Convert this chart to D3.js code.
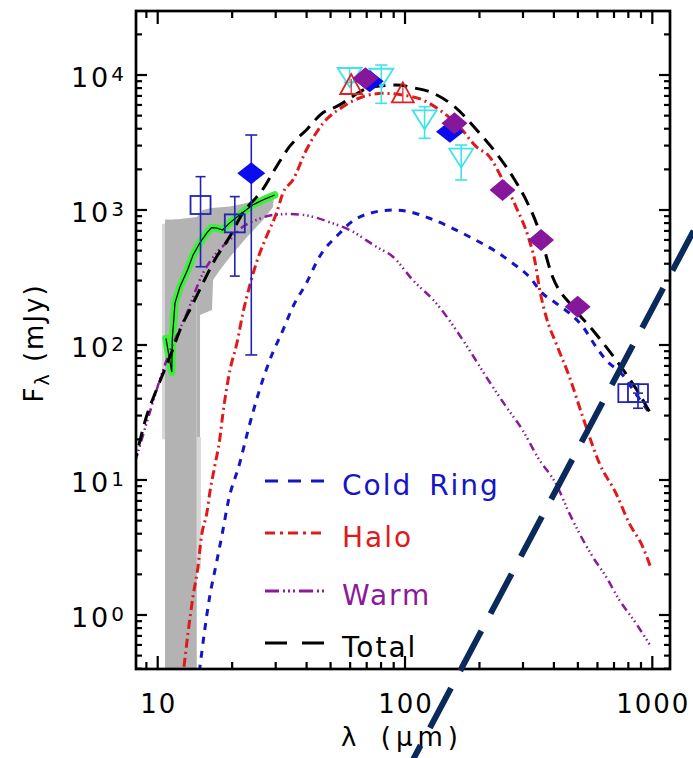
<!DOCTYPE html>
<html>
<head>
<meta charset="utf-8">
<script src="https://cdn.jsdelivr.net/npm/d3@7"></script>
<style>
  html, body { margin: 0; padding: 0; background: #fff; }
  svg { display: block; }
  text { font-family: "DejaVu Sans", sans-serif; fill: #000; }
</style>
</head>
<body>
<svg id="chart" width="693" height="758"></svg>
<script>
// ---------------- data ----------------
// axes
const xDomain = [8.17, 1179];      // wavelength, micron
const yDomain = [0.398, 29800];    // flux density, mJy
const xTickLabels = [10, 100, 1000];
const yTickExponents = [0, 1, 2, 3, 4];

// spectrum uncertainty: short-wavelength strip (wavelength range, flux range)
const stripWave = [10.7, 14.38];
const stripFlux = [0.3, 850];
// spectrum uncertainty: long-wavelength envelope
const bandUpperWave = [10.7, 11.4, 14.4, 15.2, 16.5, 19.6, 22.9, 26.6, 29.5];
const bandUpperFlux = [801, 843, 888, 1000, 1035, 1060, 1127, 1228, 1292];
const bandLowerWave = [10.7, 14.38, 14.38, 14.83, 14.83, 16.58, 16.74, 17.86, 19.6, 22.97, 26.66, 29.26, 29.5];
const bandLowerFlux = [300, 300, 20.8, 20.8, 167, 182, 303, 359, 449, 631, 843, 1052, 1250];
// faint outer error ticks along the envelope edges
const edgeLeftWave = [10.4, 10.7];
const edgeLeftFlux = [20, 790];
const edgeRightWave = [14.38, 14.95];
const edgeRightFlux = [2.2, 20.8];

// spectrum itself
const specWave = [10.8, 11.4, 11.45, 11.6, 11.75, 12.3, 13.2, 13.9, 14.8, 15.8, 16.5, 17.3, 18.3, 19.5, 21.4, 24.2, 26.6, 29.7];
const specFlux = [112, 63, 110, 150, 205, 270, 360, 465, 570, 676, 740, 736, 711, 800, 918, 1090, 1186, 1292];

// model components
const coldWave = [14.5, 14.78, 15.49, 16.23, 17.27, 18.36, 19.23, 21.45, 23.2, 25.8, 28.4, 32.1, 35.2, 39.9, 45.1, 54.4, 59.7, 71.9, 89.3, 104, 125.6, 151, 182, 233.7, 272.6, 318, 360, 408, 462, 523, 592, 650, 759, 846, 988];
const coldFlux = [0.3, 0.398, 0.774, 1.37, 2.42, 4.27, 6.76, 13.3, 23.4, 46.4, 77.4, 129, 192, 287, 451, 672, 796, 945, 1000, 971, 869, 752, 634, 491, 403, 320, 241, 204, 172, 137, 97, 77.4, 60, 45.1, 30.3];

const haloWave = [12.5, 12.74, 13.26, 13.89, 14.55, 15.02, 15.8, 16.3, 17.0, 17.8, 18.36, 18.95, 19.6, 20.9, 22.1, 23.5, 25.05, 27.5, 30.2, 32.1, 35.2, 39.9, 46.6, 56.1, 67.5, 81.3, 98, 118, 137.9, 166, 194, 219.5, 248.5, 281, 318, 335, 350, 372, 408, 462, 523, 611, 713, 807, 914, 988];
const haloFlux = [0.3, 0.398, 0.736, 1.37, 2.28, 3.80, 5.7, 8.4, 12.6, 19.8, 31.3, 46.4, 65.3, 103, 172, 271, 405, 634, 945, 1337, 1668, 2783, 4385, 5826, 6906, 7316, 7109, 6531, 5508, 4142, 2944, 2484, 1668, 1057, 600, 420, 260, 162, 103, 58.2, 29.4, 13.3, 7.97, 4.77, 3.21, 2.22];

const warmWave = [8.0, 9.57, 10.19, 11.18, 13.0, 15.24, 17.27, 19.54, 22.1, 25.05, 29.2, 34.1, 41.1, 51.1, 59.7, 76.5, 89.3, 107.5, 133.7, 161, 182, 212.9, 256.5, 299, 345, 410, 462, 507, 574, 650, 736, 859, 988];
const warmFlux = [12.5, 38, 55, 88.7, 165, 340, 480, 600, 752, 843, 918, 934, 903, 796, 711, 535, 451, 303, 204, 129, 91.8, 58.2, 34.9, 23.4, 14.6, 9.2, 5.66, 4.03, 2.70, 1.92, 1.29, 0.867, 0.582];

const totalWave = [8.0, 9.0, 9.88, 11.36, 12.47, 13.68, 15.24, 17.0, 19.6, 22.0, 26.5, 30.2, 34.1, 39.9, 46.4, 52.7, 74.1, 92.1, 111, 125.6, 158.5, 200, 233.7, 272.6, 308.8, 344, 395, 476, 574, 713, 900, 991];
const totalFlux = [12.5, 29.4, 46.4, 87.3, 137, 192, 288, 426, 640, 940, 1406, 2094, 2944, 3917, 5236, 5826, 8185, 8433, 7966, 7520, 5826, 3715, 2642, 1766, 1185, 752, 320, 192, 129, 77.4, 41.4, 30.3];

// photometry
const sqWave = [14.9, 20.5, 800, 875];
const sqFlux = [1089, 796, 44, 44];
const sqErrLow = [380, 324, 44, 34];
const sqErrHigh = [1766, 1257, 44, 44];

const blueDiaWave = [23.9, 72, 152];
const blueDiaFlux = [1872, 9000, 3802];
const blueDiaErrLow = [84.4, 9000, 3802];
const blueDiaErrHigh = [3594, 9000, 3802];

const purpleDiaWave = [69.2, 158.5, 248, 355, 499];
const purpleDiaFlux = [9453, 4385, 1406, 600, 192];

const redTriWave = [60.6, 98];
const redTriFlux = [8433, 7316];

const cyanTriWave = [59.7, 80.2, 120, 168.7];
const cyanTriFlux = [9830, 9710, 4775, 2484];
const cyanErrLow = [8800, 6170, 3397, 1668];
const cyanErrHigh = [11300, 11860, 5826, 3030];

// overlaid guide stroke, given in (wavelength, flux) at its two ends
const guideWave = [100, 1878];
const guideFlux = [0.0655, 1640];

// legend
const legendNames = ["Cold Ring", "Halo", "Warm", "Total"];

// ---------------- drawing ----------------
const svg = d3.select("#chart");
const x = d3.scaleLog().domain(xDomain).range([136, 670]);
const y = d3.scaleLog().domain(yDomain).range([669, 11]);
const [x0, x1] = x.range();
const [y0, y1] = [y.range()[1], y.range()[0]];

const zip = (a, b) => a.map((v, i) => [v, b[i]]);

svg.append("clipPath").attr("id", "plotClip")
  .append("rect").attr("x", x0).attr("y", y0).attr("width", x1 - x0).attr("height", y1 - y0);

const plot = svg.append("g").attr("clip-path", "url(#plotClip)");
const lineGen = d3.line().x(d => x(d[0])).y(d => y(d[1]));

// box spanning a wavelength range and a flux range
function box(g, w, f, color) {
  g.append("rect")
    .attr("x", x(w[0])).attr("width", x(w[1]) - x(w[0]))
    .attr("y", y(f[1])).attr("height", y(f[0]) - y(f[1]))
    .attr("fill", color);
}

// faint edge error ticks
box(plot, edgeLeftWave, edgeLeftFlux, "#d8d8d8");
box(plot, edgeRightWave, edgeRightFlux, "#d8d8d8");

// shaded uncertainty of the spectrum
box(plot, stripWave, stripFlux, "#b3b3b3");
const bandPts = zip(bandUpperWave, bandUpperFlux).concat(zip(bandLowerWave, bandLowerFlux).reverse());
plot.append("path")
  .attr("d", lineGen(bandPts) + "Z")
  .attr("fill", "#b3b3b3").attr("stroke", "none");

// spectrum
const specPts = zip(specWave, specFlux);
plot.append("path").attr("d", lineGen(specPts))
  .attr("fill", "none").attr("stroke", "#3ef03e").attr("stroke-width", 7.5)
  .attr("stroke-linejoin", "round").attr("stroke-linecap", "round");
plot.append("path").attr("d", lineGen(specPts))
  .attr("fill", "none").attr("stroke", "#000").attr("stroke-width", 1.2);

// error bars helper
function errBars(g, wave, low, high, color, cap) {
  wave.forEach((w, i) => {
    if (low[i] === high[i]) return;
    const cx = x(w);
    g.append("line").attr("x1", cx).attr("x2", cx).attr("y1", y(low[i])).attr("y2", y(high[i]))
      .attr("stroke", color).attr("stroke-width", 1.6);
    [low[i], high[i]].forEach(v => {
      g.append("line").attr("x1", cx - cap).attr("x2", cx + cap).attr("y1", y(v)).attr("y2", y(v))
        .attr("stroke", color).attr("stroke-width", 1.6);
    });
  });
}

const pts = svg.append("g");

// cyan downward triangles (open)
errBars(pts, cyanTriWave, cyanErrLow, cyanErrHigh, "#3fe3ea", 6);
cyanTriWave.forEach((w, i) => {
  const cx = x(w), cy = y(cyanTriFlux[i]);
  pts.append("path").attr("d", `M${cx - 12},${cy - 8}L${cx + 12},${cy - 8}L${cx},${cy + 11}Z`)
    .attr("fill", "none").attr("stroke", "#3fe3ea").attr("stroke-width", 1.8);
});

// red upward triangles (open)
redTriWave.forEach((w, i) => {
  const cx = x(w), cy = y(redTriFlux[i]);
  pts.append("path").attr("d", `M${cx - 11},${cy + 9}L${cx + 11},${cy + 9}L${cx},${cy - 11}Z`)
    .attr("fill", "none").attr("stroke", "#dd2020").attr("stroke-width", 1.8);
  pts.append("line").attr("x1", cx).attr("x2", cx).attr("y1", cy - 6).attr("y2", cy + 9)
    .attr("stroke", "#dd2020").attr("stroke-width", 1.2);
});

// blue open squares
errBars(pts, sqWave, sqErrLow, sqErrHigh, "#2323b4", 5);
sqWave.forEach((w, i) => {
  const cx = x(w), cy = y(sqFlux[i]);
  pts.append("rect").attr("x", cx - 10).attr("y", cy - 9).attr("width", 20).attr("height", 18)
    .attr("fill", "none").attr("stroke", "#2323b4").attr("stroke-width", 1.8);
});

// blue filled diamonds
errBars(pts, blueDiaWave, blueDiaErrLow, blueDiaErrHigh, "#2323b4", 6);
blueDiaWave.forEach((w, i) => {
  const cx = x(w), cy = y(blueDiaFlux[i]);
  pts.append("path").attr("d", `M${cx - 14},${cy}L${cx},${cy - 11}L${cx + 14},${cy}L${cx},${cy + 11}Z`)
    .attr("fill", "#0b0bf0").attr("stroke", "none");
});

// purple filled diamonds
purpleDiaWave.forEach((w, i) => {
  const cx = x(w), cy = y(purpleDiaFlux[i]);
  pts.append("path").attr("d", `M${cx - 13},${cy}L${cx},${cy - 11}L${cx + 13},${cy}L${cx},${cy + 11}Z`)
    .attr("fill", "#86169c").attr("stroke", "none");
});

// model curves
const curve = d3.line().x(d => x(d[0])).y(d => y(d[1])).curve(d3.curveMonotoneX);
const models = [
  { wave: coldWave, flux: coldFlux, color: "#1515c8", dash: "7,7", width: 3 },
  { wave: haloWave, flux: haloFlux, color: "#e01a1a", dash: "9,4,2,4", width: 3 },
  { wave: warmWave, flux: warmFlux, color: "#8a1a9a", dash: "8,4,1.5,3,1.5,3,1.5,4", width: 2.5 },
  { wave: totalWave, flux: totalFlux, color: "#000", dash: "14,8", width: 3 }
];
models.forEach(m => {
  plot.append("path").attr("d", curve(zip(m.wave, m.flux)))
    .attr("fill", "none").attr("stroke", m.color).attr("stroke-width", m.width)
    .attr("stroke-dasharray", m.dash);
});

// legend
const legendDash = ["13,10", "10,5,3,5", "14,4,2,3,2,3,2,4", "22,15"];
const legendY = [481, 533, 591, 643];
legendNames.forEach((name, i) => {
  const m = models[i];
  svg.append("line").attr("x1", 265).attr("x2", 325).attr("y1", legendY[i]).attr("y2", legendY[i])
    .attr("stroke", m.color).attr("stroke-width", 3).attr("stroke-dasharray", legendDash[i]);
  svg.append("text").attr("x", 342).attr("y", legendY[i] + 6).attr("dominant-baseline", "middle")
    .attr("font-size", 28).attr("letter-spacing", 2).attr("word-spacing", 6)
    .style("fill", m.color).text(name);
});

// frame and ticks
const axes = svg.append("g");
axes.append("rect").attr("x", x0).attr("y", y0).attr("width", x1 - x0).attr("height", y1 - y0)
  .attr("fill", "none").attr("stroke", "#000").attr("stroke-width", 2.7);

const xTicks = [];
for (let e = 0; e <= 3; e++) for (let k = 1; k <= 9; k++) {
  const v = k * Math.pow(10, e);
  if (v >= xDomain[0] && v <= xDomain[1]) xTicks.push({ v, major: k === 1 });
}
xTicks.forEach(t => {
  const len = t.major ? 13 : 7;
  const px = x(t.v);
  axes.append("line").attr("x1", px).attr("x2", px).attr("y1", y1).attr("y2", y1 - len).attr("stroke", "#000").attr("stroke-width", 2.2);
  axes.append("line").attr("x1", px).attr("x2", px).attr("y1", y0).attr("y2", y0 + len).attr("stroke", "#000").attr("stroke-width", 2.2);
});
const yTicks = [];
for (let e = -1; e <= 4; e++) for (let k = 1; k <= 9; k++) {
  const v = k * Math.pow(10, e);
  if (v >= yDomain[0] && v <= yDomain[1]) yTicks.push({ v, major: k === 1 });
}
yTicks.forEach(t => {
  const len = t.major ? 11 : 6;
  const py = y(t.v);
  axes.append("line").attr("x1", x0).attr("x2", x0 + len).attr("y1", py).attr("y2", py).attr("stroke", "#000").attr("stroke-width", 2.2);
  axes.append("line").attr("x1", x1).attr("x2", x1 - len).attr("y1", py).attr("y2", py).attr("stroke", "#000").attr("stroke-width", 2.2);
});

// tick labels
xTickLabels.forEach(v => {
  axes.append("text").attr("x", x(v) + 1).attr("y", 713).attr("text-anchor", "middle")
    .attr("font-size", 26).attr("letter-spacing", 2).text(v);
});
yTickExponents.forEach(e => {
  const t = axes.append("text").attr("x", 127).attr("y", y(Math.pow(10, e)) + 12)
    .attr("text-anchor", "end").attr("font-size", 27).attr("letter-spacing", 3);
  t.append("tspan").text("10");
  t.append("tspan").attr("font-size", 20).attr("dy", -6).text(e);
});

// axis titles
axes.append("text").attr("x", 402).attr("y", 746).attr("text-anchor", "middle")
  .attr("font-size", 26).attr("letter-spacing", 5).attr("word-spacing", 6).text("λ (μm)");
const yt = axes.append("text").attr("transform", "translate(43,343) rotate(-90)")
  .attr("text-anchor", "middle").attr("font-size", 26).attr("letter-spacing", 2);
yt.append("tspan").text("F");
yt.append("tspan").attr("font-size", 19).attr("dy", 6).text("λ");
yt.append("tspan").attr("dy", -6).text(" (mJy)");

// diagonal guide stroke across the figure
const guide = zip(guideWave, guideFlux);
svg.append("path").attr("d", lineGen(guide))
  .attr("fill", "none").attr("stroke", "#0b2a5c").attr("stroke-width", 6)
  .attr("stroke-dasharray", "45,19.7").attr("stroke-dashoffset", 11.6);
</script>
</body>
</html>
